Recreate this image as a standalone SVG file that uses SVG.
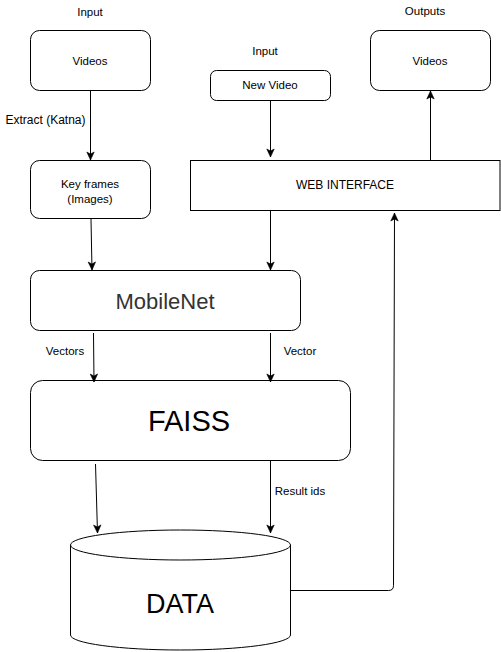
<svg xmlns="http://www.w3.org/2000/svg" width="501" height="652" viewBox="0 0 501 652">
<defs>
<style>
.box{fill:#fff;stroke:#000;stroke-width:1}
.t{font-family:"Liberation Sans",Arial,Helvetica,sans-serif;fill:#000;text-anchor:middle}
.s{font-size:11.5px}
.e{fill:none;stroke:#000;stroke-width:1}
</style>
<marker id="arr" markerUnits="userSpaceOnUse" markerWidth="10" markerHeight="10" viewBox="0 0 10 10" refX="9" refY="5" orient="auto">
<path d="M1,1.3 L9,5 L1,8.7 L3,5 Z" fill="#000" stroke="#000" stroke-width="0.6"/>
</marker>
</defs>
<rect width="501" height="652" fill="#fff"/>

<g id="label-input-left"><text class="t s" x="90" y="16">Input</text></g>
<g id="label-input-right"><text class="t s" x="265" y="55">Input</text></g>
<g id="label-outputs"><text class="t s" x="425" y="15">Outputs</text></g>

<g id="videos-in">
<rect class="box" x="30.5" y="30.5" width="120" height="60" rx="9"/>
<text class="t s" x="90" y="65">Videos</text>
</g>
<g id="keyframes">
<rect class="box" x="30.5" y="160.5" width="120" height="58" rx="9"/>
<text class="t s" x="90" y="188">Key frames</text>
<text class="t s" x="90" y="203">(Images)</text>
</g>
<g id="newvideo">
<rect class="box" x="210.5" y="70.5" width="120" height="30" rx="6"/>
<text class="t s" x="270" y="89">New Video</text>
</g>
<g id="videos-out">
<rect class="box" x="370.5" y="30.5" width="120" height="60" rx="9"/>
<text class="t s" x="430" y="65">Videos</text>
</g>
<g id="webinterface">
<rect class="box" x="190.5" y="160.5" width="309.5" height="50"/>
<text class="t" x="345" y="189" font-size="12">WEB INTERFACE</text>
</g>
<g id="mobilenet">
<rect class="box" x="30.5" y="270.5" width="270" height="60" rx="9"/>
<text class="t" x="165" y="309" font-size="22" style="fill:#333">MobileNet</text>
</g>
<g id="faiss">
<rect class="box" x="30.5" y="380.5" width="320" height="80" rx="12"/>
<text class="t" x="189" y="431" font-size="29">FAISS</text>
</g>
<g id="data">
<path class="box" d="M70.5,545 L70.5,635 A110,15 0 0 0 290.5,635 L290.5,545"/>
<ellipse class="box" cx="180.5" cy="545" rx="110" ry="15"/>
<text class="t" x="180" y="613" font-size="27">DATA</text>
</g>

<g id="connectors">
<line class="e" x1="90.5" y1="90.5" x2="90.5" y2="160" marker-end="url(#arr)"/>
<line class="e" x1="91" y1="219" x2="92" y2="270" marker-end="url(#arr)"/>
<line class="e" x1="270.5" y1="100.5" x2="270.5" y2="157" marker-end="url(#arr)"/>
<line class="e" x1="270.5" y1="210.5" x2="270.5" y2="270" marker-end="url(#arr)"/>
<line class="e" x1="430.5" y1="160.5" x2="430.5" y2="91" marker-end="url(#arr)"/>
<line class="e" x1="93.5" y1="333" x2="94" y2="382" marker-end="url(#arr)"/>
<line class="e" x1="270.5" y1="333" x2="270.5" y2="382" marker-end="url(#arr)"/>
<line class="e" x1="95.5" y1="464" x2="97.5" y2="533" marker-end="url(#arr)"/>
<line class="e" x1="270.5" y1="461" x2="270.5" y2="533" marker-end="url(#arr)"/>
<path class="e" d="M290.5,590.5 L388.5,590.5 Q393.5,590.5 393.5,585.5 L394.5,213" marker-end="url(#arr)"/>
<text class="t" x="45.5" y="124" font-size="12">Extract (Katna)</text>
<text class="t s" x="65" y="355">Vectors</text>
<text class="t s" x="300" y="355">Vector</text>
<text class="t s" x="300" y="495">Result ids</text>
</g>
</svg>
